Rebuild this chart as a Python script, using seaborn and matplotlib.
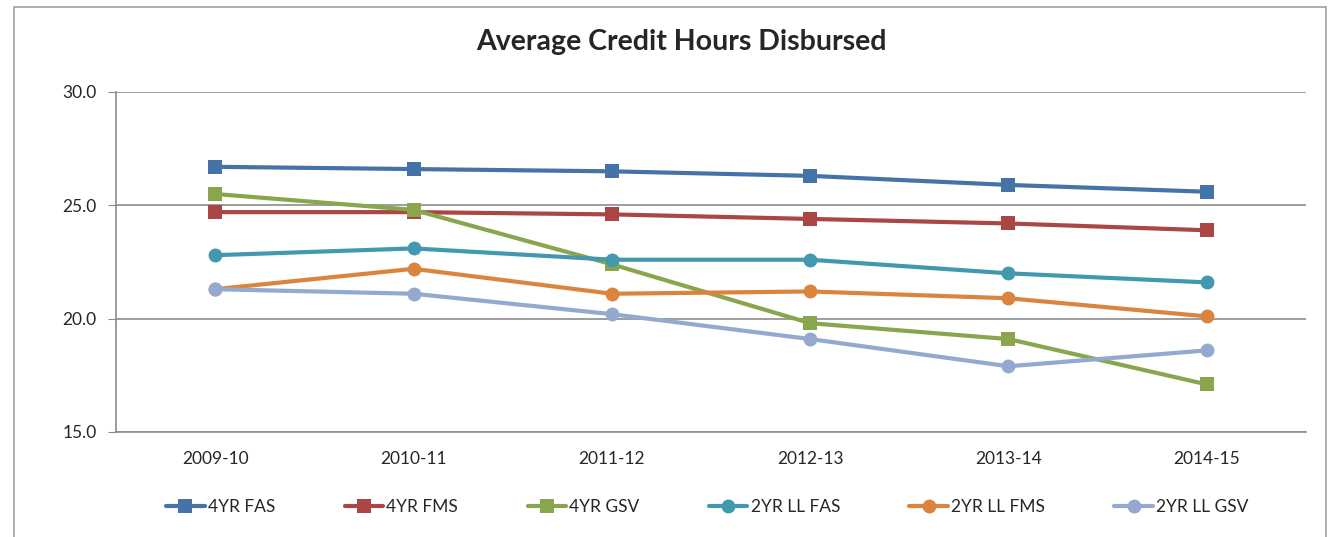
import pandas as pd
import seaborn as sns
import matplotlib.pyplot as plt
from matplotlib.patches import Rectangle

# Data
years = ['2009-10', '2010-11', '2011-12', '2012-13', '2013-14', '2014-15']
fas_4yr = [26.7, 26.6, 26.5, 26.3, 25.9, 25.6]
fms_4yr = [24.7, 24.7, 24.6, 24.4, 24.2, 23.9]
gsv_4yr = [25.5, 24.8, 22.4, 19.8, 19.1, 17.1]
fas_2yr = [22.8, 23.1, 22.6, 22.6, 22.0, 21.6]
fms_2yr = [21.3, 22.2, 21.1, 21.2, 20.9, 20.1]
gsv_2yr = [21.3, 21.1, 20.2, 19.1, 17.9, 18.6]

series_names = ['4YR FAS', '4YR FMS', '4YR GSV', '2YR LL FAS', '2YR LL FMS', '2YR LL GSV']
series_vals = [fas_4yr, fms_4yr, gsv_4yr, fas_2yr, fms_2yr, gsv_2yr]
colors = ['#4572A7', '#AA4643', '#89A54E', '#4198AF', '#DB843D', '#93A9CF']
markers = ['s', 's', 's', 'o', 'o', 'o']

rows = []
for name, vals in zip(series_names, series_vals):
    for i, (yr, v) in enumerate(zip(years, vals)):
        rows.append({'idx': i, 'year': yr, 'value': v, 'series': name})
df = pd.DataFrame(rows)

sns.set_style('white')
plt.rcParams['font.family'] = ['Lato', 'DejaVu Sans']

fig = plt.figure(figsize=(13.28, 5.37), dpi=100)
ax = fig.add_axes([116/1328, 1 - 432/537, (1306-116)/1328, (432-92)/537])

# outer chart border
fig.patches.append(Rectangle((14/1328, -0.05), (1326-14)/1328, 1 - 7/537 + 0.05,
                             transform=fig.transFigure, fill=False,
                             edgecolor='#A0A0A0', linewidth=1.2))

sns.lineplot(data=df, x='idx', y='value', hue='series', style='series',
             hue_order=series_names, style_order=series_names,
             palette=dict(zip(series_names, colors)),
             markers=dict(zip(series_names, markers)),
             dashes=False, linewidth=3, markersize=10, markeredgewidth=0,
             ax=ax)

ax.set_xlim(-0.5, 5.5)
ax.set_ylim(15, 30)
ax.set_yticks([15, 20, 25, 30])
ax.set_yticklabels(['15.0', '20.0', '25.0', '30.0'], fontsize=12.5)
ax.set_xticks(range(len(years)))
ax.set_xticklabels(years, fontsize=12.5)
ax.set_xticks([i - 0.5 for i in range(len(years) + 1)], minor=True)
ax.tick_params(axis='x', which='major', length=0, pad=14)
ax.tick_params(axis='x', which='minor', length=6, color='#888888', direction='out')
ax.tick_params(axis='y', length=6, color='#888888', direction='out', left=True, pad=8)
ax.yaxis.grid(True, color='#8C8C8C', linewidth=1.2)
ax.set_xlabel('')
ax.set_ylabel('')
for side in ['top', 'right']:
    ax.spines[side].set_visible(False)
for side in ['left', 'bottom']:
    ax.spines[side].set_color('#8C8C8C')
    ax.spines[side].set_linewidth(1.2)

fig.text(681/1328, 1 - 42/537, 'Average Credit Hours Disbursed', ha='center', va='center',
         fontsize=20.5, fontweight='bold')

handles, labels = ax.get_legend_handles_labels()
ax.legend(handles, labels, loc='center', bbox_to_anchor=(0.497, -0.22), ncol=6,
          frameon=False, fontsize=12.5, handlelength=2.2, handletextpad=0.2,
          columnspacing=4.0)

fig.savefig('out.png', dpi=100)
